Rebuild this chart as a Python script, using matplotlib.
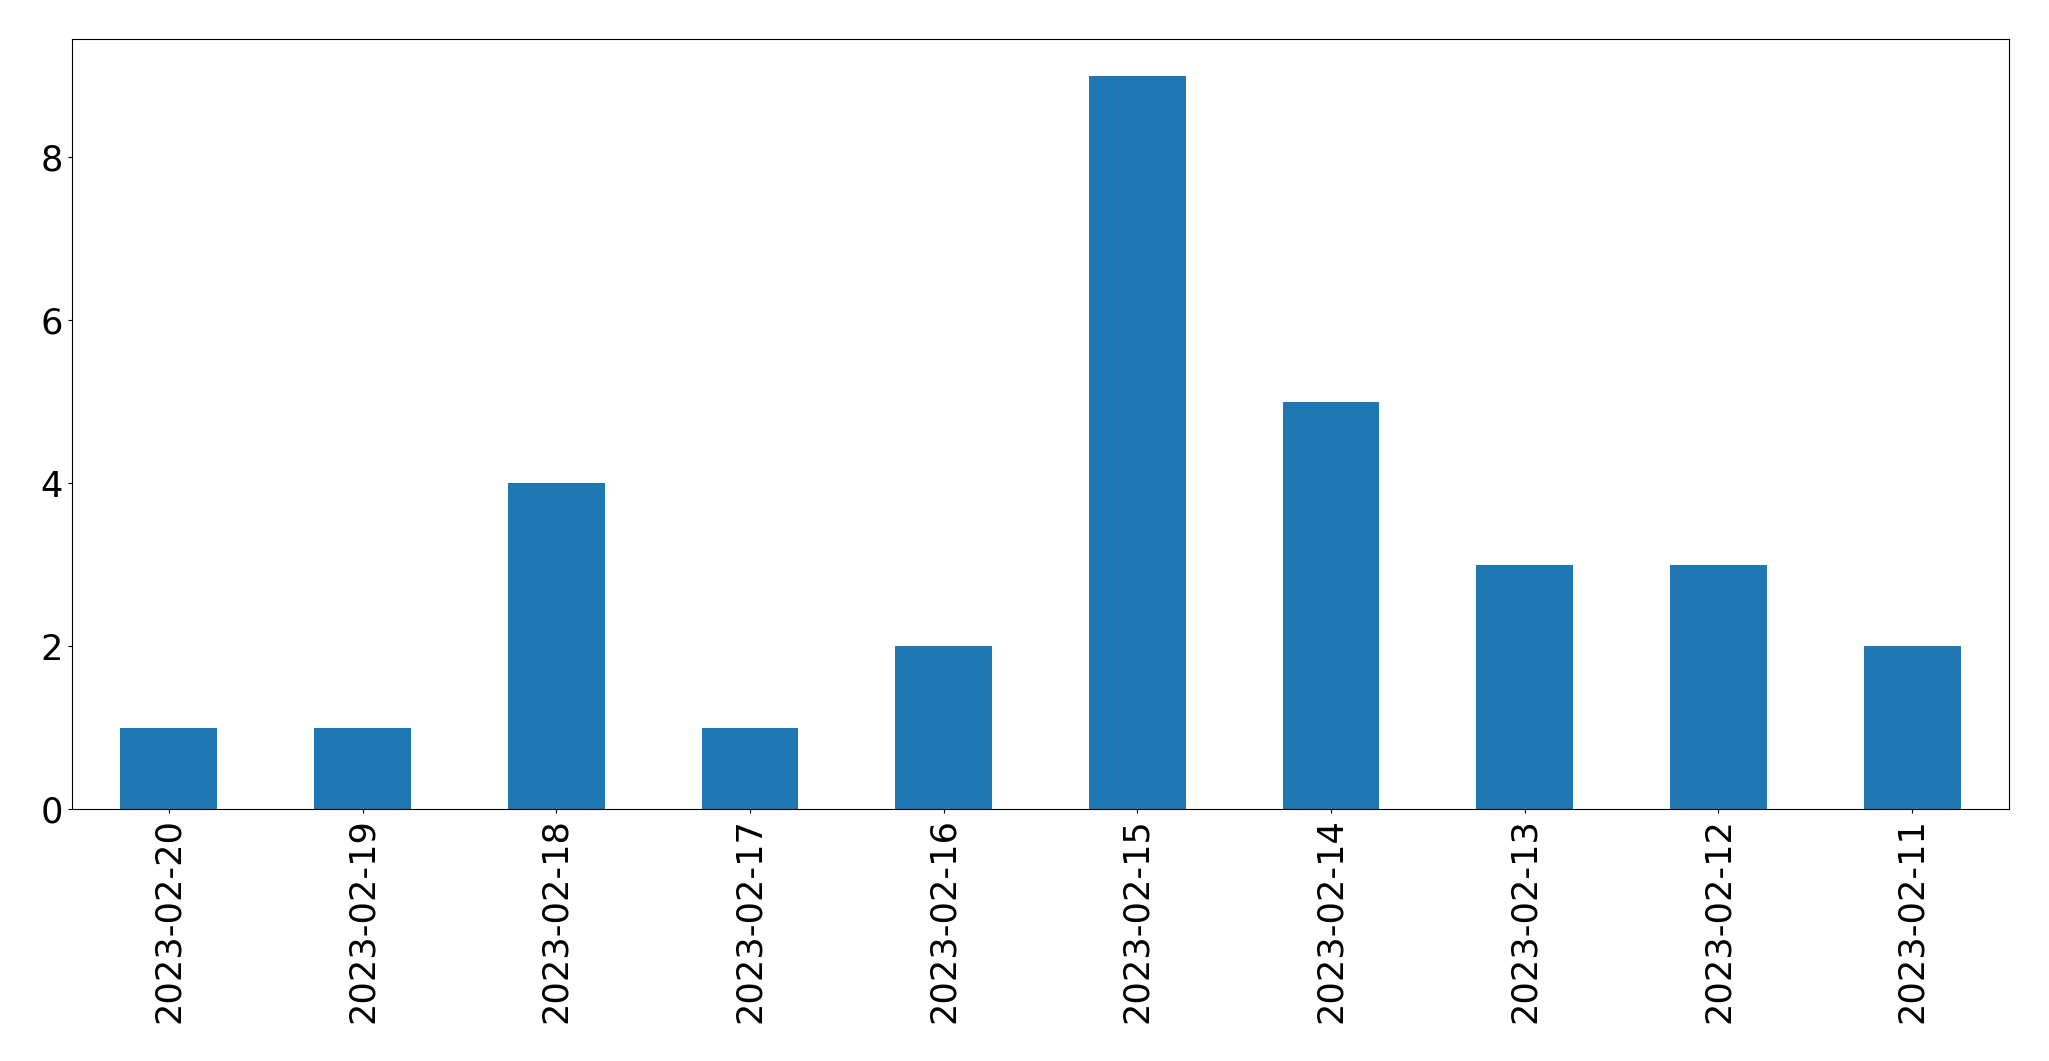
import matplotlib
matplotlib.use("Agg")
import matplotlib.pyplot as plt
import pandas as pd

dates = ['2023-02-20', '2023-02-19', '2023-02-18', '2023-02-17', '2023-02-16',
         '2023-02-15', '2023-02-14', '2023-02-13', '2023-02-12', '2023-02-11']
counts = [1, 1, 4, 1, 2, 9, 5, 3, 3, 2]

s = pd.Series(counts, index=dates)

fig = plt.figure(figsize=(20.49, 10.61), dpi=100)
ax = fig.add_axes([72 / 2049, 1 - 809 / 1061, (2009 - 72) / 2049, (809 - 39) / 1061])
s.plot(kind='bar', ax=ax, color='#1f77b4')
ax.tick_params(axis='both', labelsize=25.3, length=3.1)
ax.set_ylim(0, 9.45)
fig.savefig('out.png', dpi=100)
